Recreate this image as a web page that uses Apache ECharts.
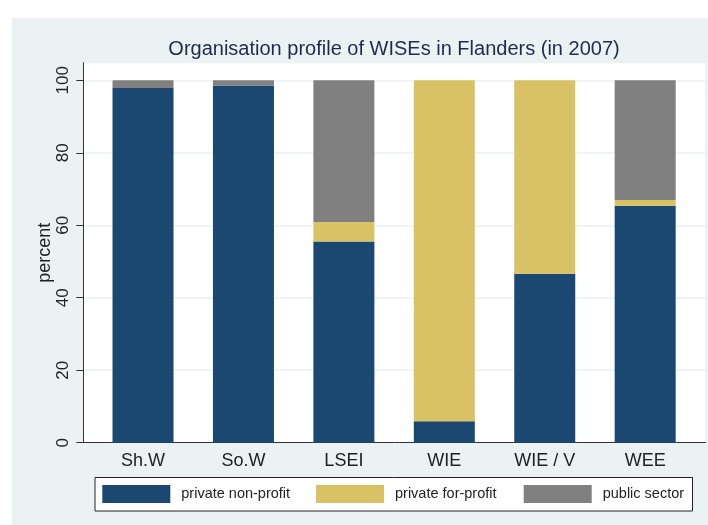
<!DOCTYPE html>
<html>
<head>
<meta charset="utf-8">
<script src="https://cdn.jsdelivr.net/npm/echarts@6/dist/echarts.min.js"></script>
<style>
  html, body { margin: 0; padding: 0; background: #fff; }
  #wrap { position: relative; width: 708px; height: 525px; background: #fff; }
  #chart { position: absolute; left: 12px; top: 18px; width: 696px; height: 507px; }
</style>
</head>
<body>
<div id="wrap"><div id="chart"></div></div>
<script>
// categories and values (percent)
const categories = ['Sh.W', 'So.W', 'LSEI', 'WIE', 'WIE / V', 'WEE'];
const nonProfit = [97.9, 98.6, 55.5, 5.9, 46.6, 65.4];
const forProfit = [0, 0, 5.4, 94.1, 53.4, 1.6];
const publicSector = [2.1, 1.4, 39.1, 0, 0, 33.0];
const yTicks = [0, 20, 40, 60, 80, 100];
const seriesNames = ['private non-profit', 'private for-profit', 'public sector'];

const colors = ['#1b4870', '#d8c265', '#808080'];
const font = 'Liberation Sans, Arial, Helvetica, sans-serif';
const yMax = 104.86; // plot region reaches a bit above 100

const chart = echarts.init(document.getElementById('chart'));

function legendItem(i, left) {
  return {
    data: [seriesNames[i]],
    left: left,
    top: 467,
    padding: 0,
    itemWidth: 68,
    itemHeight: 18,
    itemGap: 0,
    icon: 'rect',
    selectedMode: false,
    textStyle: { fontFamily: font, fontSize: 14.5, color: '#222', padding: [0, 0, 0, 6] }
  };
}

const option = {
  backgroundColor: '#eaf2f3',
  animation: false,
  title: {
    text: 'Organisation profile of WISEs in Flanders (in 2007)',
    left: 382,
    textAlign: 'center',
    top: 21,
    padding: 0,
    textStyle: { fontFamily: font, fontSize: 20, fontWeight: 'normal', color: '#1e2b4c' }
  },
  graphic: [{
    type: 'rect',
    shape: { x: 83, y: 459.5, width: 597.5, height: 33.5 },
    style: { fill: '#fff', stroke: '#222', lineWidth: 1 },
    z: -1
  }],
  legend: [legendItem(0, 90.3), legendItem(1, 304), legendItem(2, 511.7)],
  grid: [
    // frame: white plot region with the y axis and the bottom line
    { left: 71.3, right: 2.3, top: 44.7, bottom: 82.3, show: true,
      backgroundColor: '#fff', borderColor: '#eaf2f3', borderWidth: 1 },
    // bars
    { left: 80.8, right: 12.6, top: 44.7, bottom: 82.3 }
  ],
  xAxis: [
    { type: 'value', gridIndex: 0, min: 0, max: 1,
      axisLine: { show: true, lineStyle: { color: '#333', width: 1 } },
      axisTick: { show: false }, axisLabel: { show: false }, splitLine: { show: false } },
    { type: 'category', gridIndex: 1, data: categories,
      axisLine: { show: false }, axisTick: { show: false },
      axisLabel: { fontFamily: font, fontSize: 18, color: '#222', margin: 9 } }
  ],
  yAxis: [
    { type: 'value', gridIndex: 0, min: 0, max: yMax, interval: 20,
      name: 'percent', nameLocation: 'middle', nameGap: 29, nameMoveOverlap: false,
      nameTextStyle: { fontFamily: font, fontSize: 18, color: '#222' },
      axisLine: { show: true, lineStyle: { color: '#333', width: 1 } },
      axisTick: { show: true, length: 7, customValues: yTicks, lineStyle: { color: '#333' } },
      axisLabel: { rotate: 90, fontFamily: font, fontSize: 17, color: '#222', margin: 11,
        customValues: yTicks },
      splitLine: { show: true, lineStyle: { color: '#eaf2f3', width: 1.5 } } },
    { type: 'value', gridIndex: 1, min: 0, max: yMax, show: false }
  ],
  series: [
    { name: seriesNames[0], type: 'bar', stack: 'all', xAxisIndex: 1, yAxisIndex: 1,
      barWidth: 61, data: nonProfit, itemStyle: { color: colors[0] } },
    { name: seriesNames[1], type: 'bar', stack: 'all', xAxisIndex: 1, yAxisIndex: 1,
      barWidth: 61, data: forProfit, itemStyle: { color: colors[1] } },
    { name: seriesNames[2], type: 'bar', stack: 'all', xAxisIndex: 1, yAxisIndex: 1,
      barWidth: 61, data: publicSector, itemStyle: { color: colors[2] } }
  ]
};

chart.setOption(option);
</script>
</body>
</html>
